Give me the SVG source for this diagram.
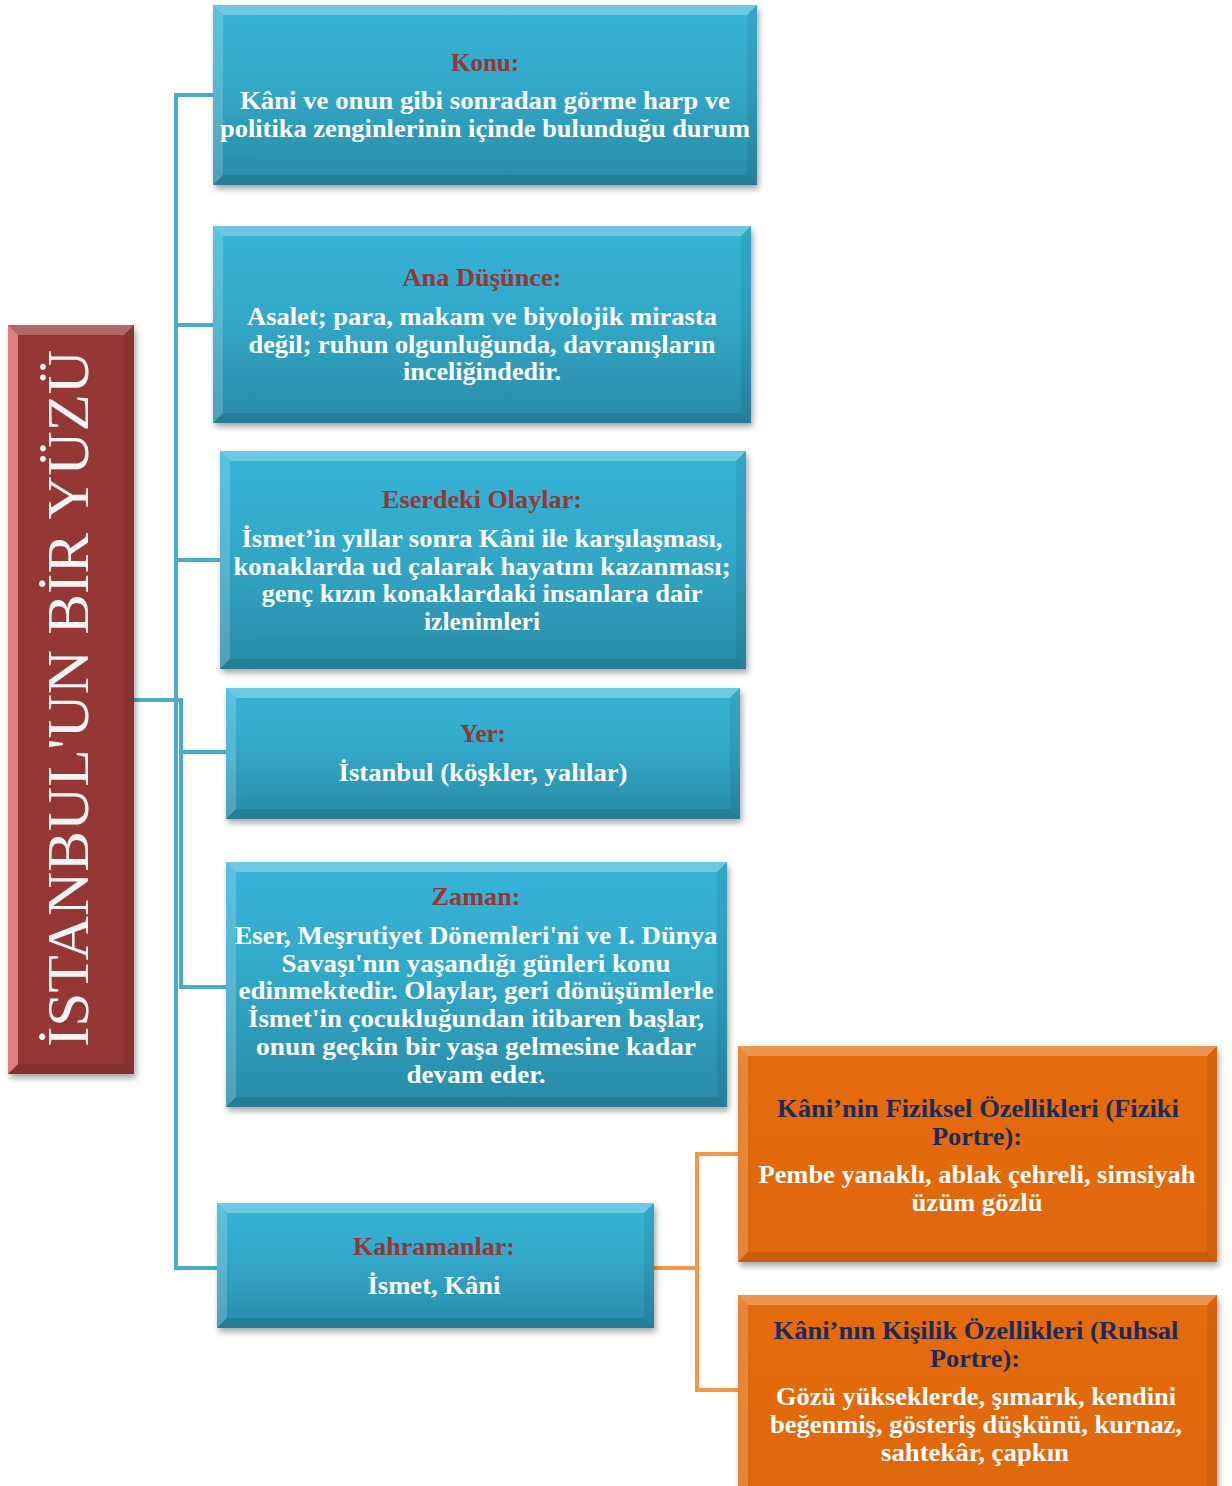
<svg xmlns="http://www.w3.org/2000/svg" width="1232" height="1486" viewBox="0 0 1232 1486">
<defs>
  <linearGradient id="gBlue" x1="0" y1="0" x2="0" y2="1">
    <stop offset="0" stop-color="#37b4d8"/>
    <stop offset="0.45" stop-color="#32a8c9"/>
    <stop offset="1" stop-color="#2a8ba6"/>
  </linearGradient>
  <linearGradient id="gOrange" x1="0" y1="0" x2="0" y2="1">
    <stop offset="0" stop-color="#e46c0a"/>
    <stop offset="1" stop-color="#e0680a"/>
  </linearGradient>
  <filter id="sh" x="-10%" y="-10%" width="120%" height="125%">
    <feDropShadow dx="2" dy="4" stdDeviation="3" flood-color="#000" flood-opacity="0.35"/>
  </filter>
  <style>
    .conB { fill: none; stroke: #4bacc6; stroke-width: 4; }
    .conO { fill: none; stroke: #f79646; stroke-width: 4; }
    .bvT { fill: #ffffff; fill-opacity: 0.28; }
    .bvL { fill: #ffffff; fill-opacity: 0.18; }
    .bvB { fill: #000000; fill-opacity: 0.10; }
    .bvR { fill: #000000; fill-opacity: 0.07; }
    .t { font-family: "Liberation Serif", "Times New Roman", serif; font-weight: bold; font-size: 25px; text-anchor: middle; }
    .hd { fill: #953735; }
    .hdO { fill: #1b2a5e; }
    .bd { fill: #ffffff; }
    .title { font-family: "Liberation Serif", "Times New Roman", serif; font-size: 60px; fill: #f4f4f4; }
  </style>
</defs>
<rect width="1232" height="1486" fill="#ffffff"/>

<g id="connectors">
  <path class="conB" d="M134,700 H176 V95 H213"/>
  <path class="conB" d="M134,700 H176 V325 H213"/>
  <path class="conB" d="M134,700 H176 V560 H220"/>
  <path class="conB" d="M134,700 H181 V752 H226"/>
  <path class="conB" d="M134,700 H181 V987 H226"/>
  <path class="conB" d="M134,700 H176 V1268 H217"/>
  <path class="conO" d="M654,1268 H697 V1154 H738"/>
  <path class="conO" d="M654,1268 H697 V1390 H738"/>
</g>

<g id="root">
  <rect x="8" y="325" width="126" height="749" fill="#953735" filter="url(#sh)"/>
  <polygon points="8,325 134,325 124,335 18,335" fill="#ffffff" fill-opacity="0.25"/>
  <polygon points="8,325 18,335 18,1064 8,1074" fill="#f59a9a" fill-opacity="0.75"/>
  <polygon points="8,1074 18,1064 124,1064 134,1074" fill="#000" fill-opacity="0.12"/>
  <polygon points="134,325 124,335 124,1064 134,1074" fill="#000" fill-opacity="0.07"/>
  <text class="title" transform="translate(88,1047) rotate(-90)" textLength="697" lengthAdjust="spacingAndGlyphs">İSTANBUL'UN BİR YÜZÜ</text>
</g>

<g id="konu">
  <rect x="213" y="5" width="544" height="180" fill="url(#gBlue)" filter="url(#sh)"/>
  <polygon class="bvT" points="213,5 757,5 747,15 223,15"/>
  <polygon class="bvL" points="213,5 223,15 223,175 213,185"/>
  <polygon class="bvB" points="213,185 223,175 747,175 757,185"/>
  <polygon class="bvR" points="757,5 747,15 747,175 757,185"/>
  <text class="t hd" x="485" y="71">Konu:</text>
  <text class="t bd" x="485" y="109" textLength="490" lengthAdjust="spacingAndGlyphs">Kâni ve onun gibi sonradan görme harp ve</text>
  <text class="t bd" x="485" y="137" textLength="530" lengthAdjust="spacingAndGlyphs">politika zenginlerinin içinde bulunduğu durum</text>
</g>

<g id="ana-dusunce">
  <rect x="213" y="226" width="538" height="197" fill="url(#gBlue)" filter="url(#sh)"/>
  <polygon class="bvT" points="213,226 751,226 741,236 223,236"/>
  <polygon class="bvL" points="213,226 223,236 223,413 213,423"/>
  <polygon class="bvB" points="213,423 223,413 741,413 751,423"/>
  <polygon class="bvR" points="751,226 741,236 741,413 751,423"/>
  <text class="t hd" x="482" y="286" textLength="159" lengthAdjust="spacingAndGlyphs">Ana Düşünce:</text>
  <text class="t bd" x="482" y="325" textLength="470" lengthAdjust="spacingAndGlyphs">Asalet; para, makam ve biyolojik mirasta</text>
  <text class="t bd" x="482" y="353" textLength="467" lengthAdjust="spacingAndGlyphs">değil; ruhun olgunluğunda, davranışların</text>
  <text class="t bd" x="482" y="380" textLength="158" lengthAdjust="spacingAndGlyphs">inceliğindedir.</text>
</g>

<g id="eserdeki-olaylar">
  <rect x="220" y="451" width="526" height="218" fill="url(#gBlue)" filter="url(#sh)"/>
  <polygon class="bvT" points="220,451 746,451 736,461 230,461"/>
  <polygon class="bvL" points="220,451 230,461 230,659 220,669"/>
  <polygon class="bvB" points="220,669 230,659 736,659 746,669"/>
  <polygon class="bvR" points="746,451 736,461 736,659 746,669"/>
  <text class="t hd" x="482" y="508" textLength="200" lengthAdjust="spacingAndGlyphs">Eserdeki Olaylar:</text>
  <text class="t bd" x="482" y="547" textLength="481" lengthAdjust="spacingAndGlyphs">İsmet’in yıllar sonra Kâni ile karşılaşması,</text>
  <text class="t bd" x="482" y="575" textLength="497" lengthAdjust="spacingAndGlyphs">konaklarda ud çalarak hayatını kazanması;</text>
  <text class="t bd" x="482" y="602" textLength="441" lengthAdjust="spacingAndGlyphs">genç kızın konaklardaki insanlara dair</text>
  <text class="t bd" x="482" y="630" textLength="116" lengthAdjust="spacingAndGlyphs">izlenimleri</text>
</g>

<g id="yer">
  <rect x="226" y="688" width="514" height="131" fill="url(#gBlue)" filter="url(#sh)"/>
  <polygon class="bvT" points="226,688 740,688 730,698 236,698"/>
  <polygon class="bvL" points="226,688 236,698 236,809 226,819"/>
  <polygon class="bvB" points="226,819 236,809 730,809 740,819"/>
  <polygon class="bvR" points="740,688 730,698 730,809 740,819"/>
  <text class="t hd" x="483" y="742">Yer:</text>
  <text class="t bd" x="483" y="781" textLength="289" lengthAdjust="spacingAndGlyphs">İstanbul (köşkler, yalılar)</text>
</g>

<g id="zaman">
  <rect x="226" y="862" width="501" height="245" fill="url(#gBlue)" filter="url(#sh)"/>
  <polygon class="bvT" points="226,862 727,862 717,872 236,872"/>
  <polygon class="bvL" points="226,862 236,872 236,1097 226,1107"/>
  <polygon class="bvB" points="226,1107 236,1097 717,1097 727,1107"/>
  <polygon class="bvR" points="727,862 717,872 717,1097 727,1107"/>
  <text class="t hd" x="476" y="905" textLength="89" lengthAdjust="spacingAndGlyphs">Zaman:</text>
  <text class="t bd" x="476" y="944" textLength="483" lengthAdjust="spacingAndGlyphs">Eser, Meşrutiyet Dönemleri'ni ve I. Dünya</text>
  <text class="t bd" x="476" y="972" textLength="389" lengthAdjust="spacingAndGlyphs">Savaşı'nın yaşandığı günleri konu</text>
  <text class="t bd" x="476" y="999" textLength="475" lengthAdjust="spacingAndGlyphs">edinmektedir. Olaylar, geri dönüşümlerle</text>
  <text class="t bd" x="476" y="1027" textLength="456" lengthAdjust="spacingAndGlyphs">İsmet'in çocukluğundan itibaren başlar,</text>
  <text class="t bd" x="476" y="1055" textLength="440" lengthAdjust="spacingAndGlyphs">onun geçkin bir yaşa gelmesine kadar</text>
  <text class="t bd" x="476" y="1083" textLength="139" lengthAdjust="spacingAndGlyphs">devam eder.</text>
</g>

<g id="kahramanlar">
  <rect x="217" y="1203" width="437" height="125" fill="url(#gBlue)" filter="url(#sh)"/>
  <polygon class="bvT" points="217,1203 654,1203 644,1213 227,1213"/>
  <polygon class="bvL" points="217,1203 227,1213 227,1318 217,1328"/>
  <polygon class="bvB" points="217,1328 227,1318 644,1318 654,1328"/>
  <polygon class="bvR" points="654,1203 644,1213 644,1318 654,1328"/>
  <text class="t hd" x="434" y="1255" textLength="162" lengthAdjust="spacingAndGlyphs">Kahramanlar:</text>
  <text class="t bd" x="434" y="1294" textLength="133" lengthAdjust="spacingAndGlyphs">İsmet, Kâni</text>
</g>

<g id="fiziksel">
  <rect x="738" y="1046" width="479" height="216" fill="url(#gOrange)" filter="url(#sh)"/>
  <polygon class="bvT" points="738,1046 1217,1046 1207,1056 748,1056"/>
  <polygon class="bvL" points="738,1046 748,1056 748,1252 738,1262"/>
  <polygon class="bvB" points="738,1262 748,1252 1207,1252 1217,1262"/>
  <polygon class="bvR" points="1217,1046 1207,1056 1207,1252 1217,1262"/>
  <text class="t hdO" x="978" y="1117" textLength="402" lengthAdjust="spacingAndGlyphs">Kâni’nin Fiziksel Özellikleri (Fiziki</text>
  <text class="t hdO" x="977" y="1145" textLength="90" lengthAdjust="spacingAndGlyphs">Portre):</text>
  <text class="t bd" x="977" y="1183" textLength="437" lengthAdjust="spacingAndGlyphs">Pembe yanaklı, ablak çehreli, simsiyah</text>
  <text class="t bd" x="977" y="1211" textLength="131" lengthAdjust="spacingAndGlyphs">üzüm gözlü</text>
</g>

<g id="kisilik">
  <rect x="738" y="1295" width="479" height="200" fill="url(#gOrange)" filter="url(#sh)"/>
  <polygon class="bvT" points="738,1295 1217,1295 1207,1305 748,1305"/>
  <polygon class="bvL" points="738,1295 748,1305 748,1486 738,1486"/>
  <polygon class="bvR" points="1217,1295 1207,1305 1207,1486 1217,1486"/>
  <text class="t hdO" x="976" y="1339" textLength="405" lengthAdjust="spacingAndGlyphs">Kâni’nın Kişilik Özellikleri (Ruhsal</text>
  <text class="t hdO" x="975" y="1367" textLength="90" lengthAdjust="spacingAndGlyphs">Portre):</text>
  <text class="t bd" x="976" y="1405" textLength="400" lengthAdjust="spacingAndGlyphs">Gözü yükseklerde, şımarık, kendini</text>
  <text class="t bd" x="976" y="1433" textLength="412" lengthAdjust="spacingAndGlyphs">beğenmiş, gösteriş düşkünü, kurnaz,</text>
  <text class="t bd" x="975" y="1461" textLength="188" lengthAdjust="spacingAndGlyphs">sahtekâr, çapkın</text>
</g>
</svg>
